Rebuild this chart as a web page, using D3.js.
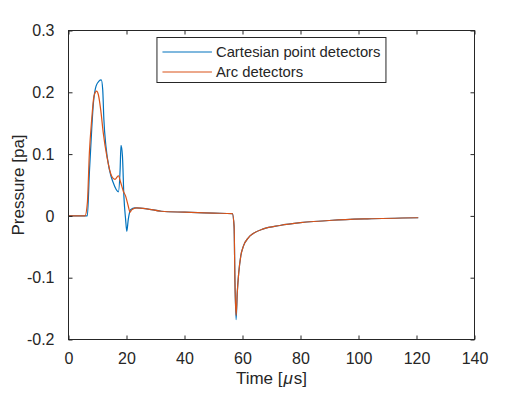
<!DOCTYPE html>
<head>
  <style>
    body { margin: 0; background: #fff; }
  </style>
</head>
<div id="div_template"></div>
<script src="https://cdn.jsdelivr.net/npm/d3@7"></script>
<script>
  // early part, sampled where the two detectors differ
  const cartTime = [0, 6.5, 7.2, 8.0, 8.6, 9.5, 10.5, 11.3, 11.8, 12.2, 12.9, 14.1, 15.4, 17.2, 17.8, 18.1, 18.6, 19.1, 19.7, 20.1, 20.6, 21.4, 22.9];
  const cartPressure = [0, 0, 0.07, 0.14, 0.183, 0.21, 0.218, 0.22, 0.204, 0.156, 0.113, 0.075, 0.054, 0.039, 0.075, 0.114, 0.097, 0.032, -0.006, -0.025, -0.006, 0.010, 0.013];
  const arcTime = [0, 5.7, 6.5, 7.2, 8.0, 8.8, 9.7, 10.3, 11.1, 12.0, 13.2, 14.9, 16.0, 17.2, 18.0, 18.9, 19.7, 20.6, 21.2, 21.8, 23.5];
  const arcPressure = [0, 0, 0.021, 0.102, 0.156, 0.194, 0.202, 0.196, 0.172, 0.134, 0.097, 0.064, 0.059, 0.065, 0.054, 0.040, 0.032, 0.016, 0.006, 0.010, 0.013];

  // late part, both curves nearly on top of each other
  const tailTime = [27, 32, 40, 50, 56.5, 57.1, 57.4, 57.8, 58.2, 58.7, 59.4, 60.3, 62.0, 63.7, 67.2, 72.9, 80, 91, 103, 120.6];
  const cartTailPressure = [0.0115, 0.0075, 0.006, 0.0045, 0.0036, -0.017, -0.108, -0.168, -0.124, -0.092, -0.065, -0.049, -0.0355, -0.0285, -0.021, -0.0155, -0.011, -0.007, -0.0047, -0.003];
  const arcTailPressure = [0.0115, 0.0075, 0.006, 0.0045, 0.0036, -0.017, -0.108, -0.161, -0.124, -0.092, -0.065, -0.049, -0.0355, -0.0285, -0.021, -0.0155, -0.011, -0.007, -0.0047, -0.003];

  const xTicks = [0, 20, 40, 60, 80, 100, 120, 140];
  const yTicks = [-0.2, -0.1, 0, 0.1, 0.2, 0.3];
  const seriesNames = ['Cartesian point detectors', 'Arc detectors'];
  const seriesColors = ['#0072BD', '#D95319'];

  const toPoints = (t, p) => t.map((d, i) => ({ time: d, close: p[i] }));
  const series = [
    toPoints(cartTime.concat(tailTime), cartPressure.concat(cartTailPressure)),
    toPoints(arcTime.concat(tailTime), arcPressure.concat(arcTailPressure)),
  ];
  const legendItems = seriesNames.map((name, i) => ({ name: name, color: seriesColors[i], row: i }));

  var width = 525,
    height = 394;
  var svg = d3
      .select('#div_template')
      .append('svg')
      .attr('width', width)
      .attr('height', height),
    margin = { top: 30.5, right: 50.5, bottom: 54.5, left: 68.5 },
    width = width - margin.left - margin.right,
    height = height - margin.top - margin.bottom,
    gRoot = svg
      .append('g')
      .attr('transform', 'translate(' + margin.left + ',' + margin.top + ')');

  const axisColor = '#262626';
  const fontFamily = '"Liberation Sans", Arial, Helvetica, sans-serif';
  const fmt = (d) => String(+d.toFixed(1));

  var xScale = d3.scaleLinear().domain([0, 140]).range([0, width]);
  var yScale = d3.scaleLinear().domain([-0.2, 0.3]).range([height, 0]);

  const line = d3
    .line()
    .x((d) => xScale(d.time))
    .y((d) => yScale(d.close))
    .curve(d3.curveMonotoneX);

  gRoot
    .selectAll('.line')
    .data(series)
    .enter()
    .append('path')
    .attr('class', 'line')
    .attr('d', (d) => line(d))
    .style('fill', 'none')
    .attr('stroke-width', 1.2)
    .attr('stroke', (d, i) => seriesColors[i]);

  function styleAxis(g, labels) {
    g.select('.domain').remove();
    g.selectAll('.tick line').attr('stroke', axisColor);
    if (!labels) g.selectAll('.tick text').remove();
    g.selectAll('.tick text')
      .attr('fill', axisColor)
      .attr('font-family', fontFamily)
      .attr('font-size', '16px');
  }

  gRoot
    .append('g')
    .attr('transform', 'translate(0,' + height + ')')
    .call(d3.axisBottom(xScale).tickValues(xTicks).tickFormat(fmt).tickSizeInner(-4).tickSizeOuter(0).tickPadding(13))
    .call(styleAxis, true);
  gRoot
    .append('g')
    .call(d3.axisTop(xScale).tickValues(xTicks).tickSizeInner(-4).tickSizeOuter(0))
    .call(styleAxis, false);
  gRoot
    .append('g')
    .call(d3.axisLeft(yScale).tickValues(yTicks).tickFormat(fmt).tickSizeInner(-4).tickSizeOuter(0).tickPadding(14))
    .call(styleAxis, true);
  gRoot
    .append('g')
    .attr('transform', 'translate(' + width + ',0)')
    .call(d3.axisRight(yScale).tickValues(yTicks).tickSizeInner(-4).tickSizeOuter(0))
    .call(styleAxis, false);

  gRoot
    .append('rect')
    .attr('width', width)
    .attr('height', height)
    .attr('fill', 'none')
    .attr('stroke', axisColor)
    .attr('stroke-width', 1);

  // axis labels
  var xLabel = gRoot
    .append('text')
    .attr('x', width / 2)
    .attr('y', height + 44)
    .attr('text-anchor', 'middle')
    .attr('fill', axisColor)
    .attr('font-family', fontFamily)
    .attr('font-size', '17px');
  xLabel.append('tspan').text('Time [');
  xLabel.append('tspan').attr('font-style', 'italic').attr('dx', 1).text('μ');
  xLabel.append('tspan').attr('dx', 1).text('s]');

  gRoot
    .append('text')
    .attr('transform', 'translate(' + -45 + ',' + height / 2 + ') rotate(-90)')
    .attr('text-anchor', 'middle')
    .attr('fill', axisColor)
    .attr('font-family', fontFamily)
    .attr('font-size', '17px')
    .text('Pressure [pa]');

  // legend
  var legend = gRoot
    .append('g')
    .attr('transform', 'translate(' + xScale(30.5) + ',' + 7 + ')');
  legend
    .append('rect')
    .attr('width', 229)
    .attr('height', 45)
    .attr('fill', '#fff')
    .attr('stroke', axisColor);
  var items = legend
    .selectAll('.item')
    .data(legendItems)
    .enter()
    .append('g')
    .attr('class', 'item')
    .attr('transform', (d) => 'translate(0,' + (14 + d.row * 20) + ')');
  items
    .append('line')
    .attr('x1', 5.5)
    .attr('x2', 55)
    .attr('y1', 0.5)
    .attr('y2', 0.5)
    .style('stroke', (d) => d.color)
    .style('stroke-width', 1.2);
  items
    .append('text')
    .attr('x', 59)
    .attr('dy', '0.35em')
    .attr('fill', axisColor)
    .attr('font-family', fontFamily)
    .attr('font-size', '14.8px')
    .text((d) => d.name);
</script>
